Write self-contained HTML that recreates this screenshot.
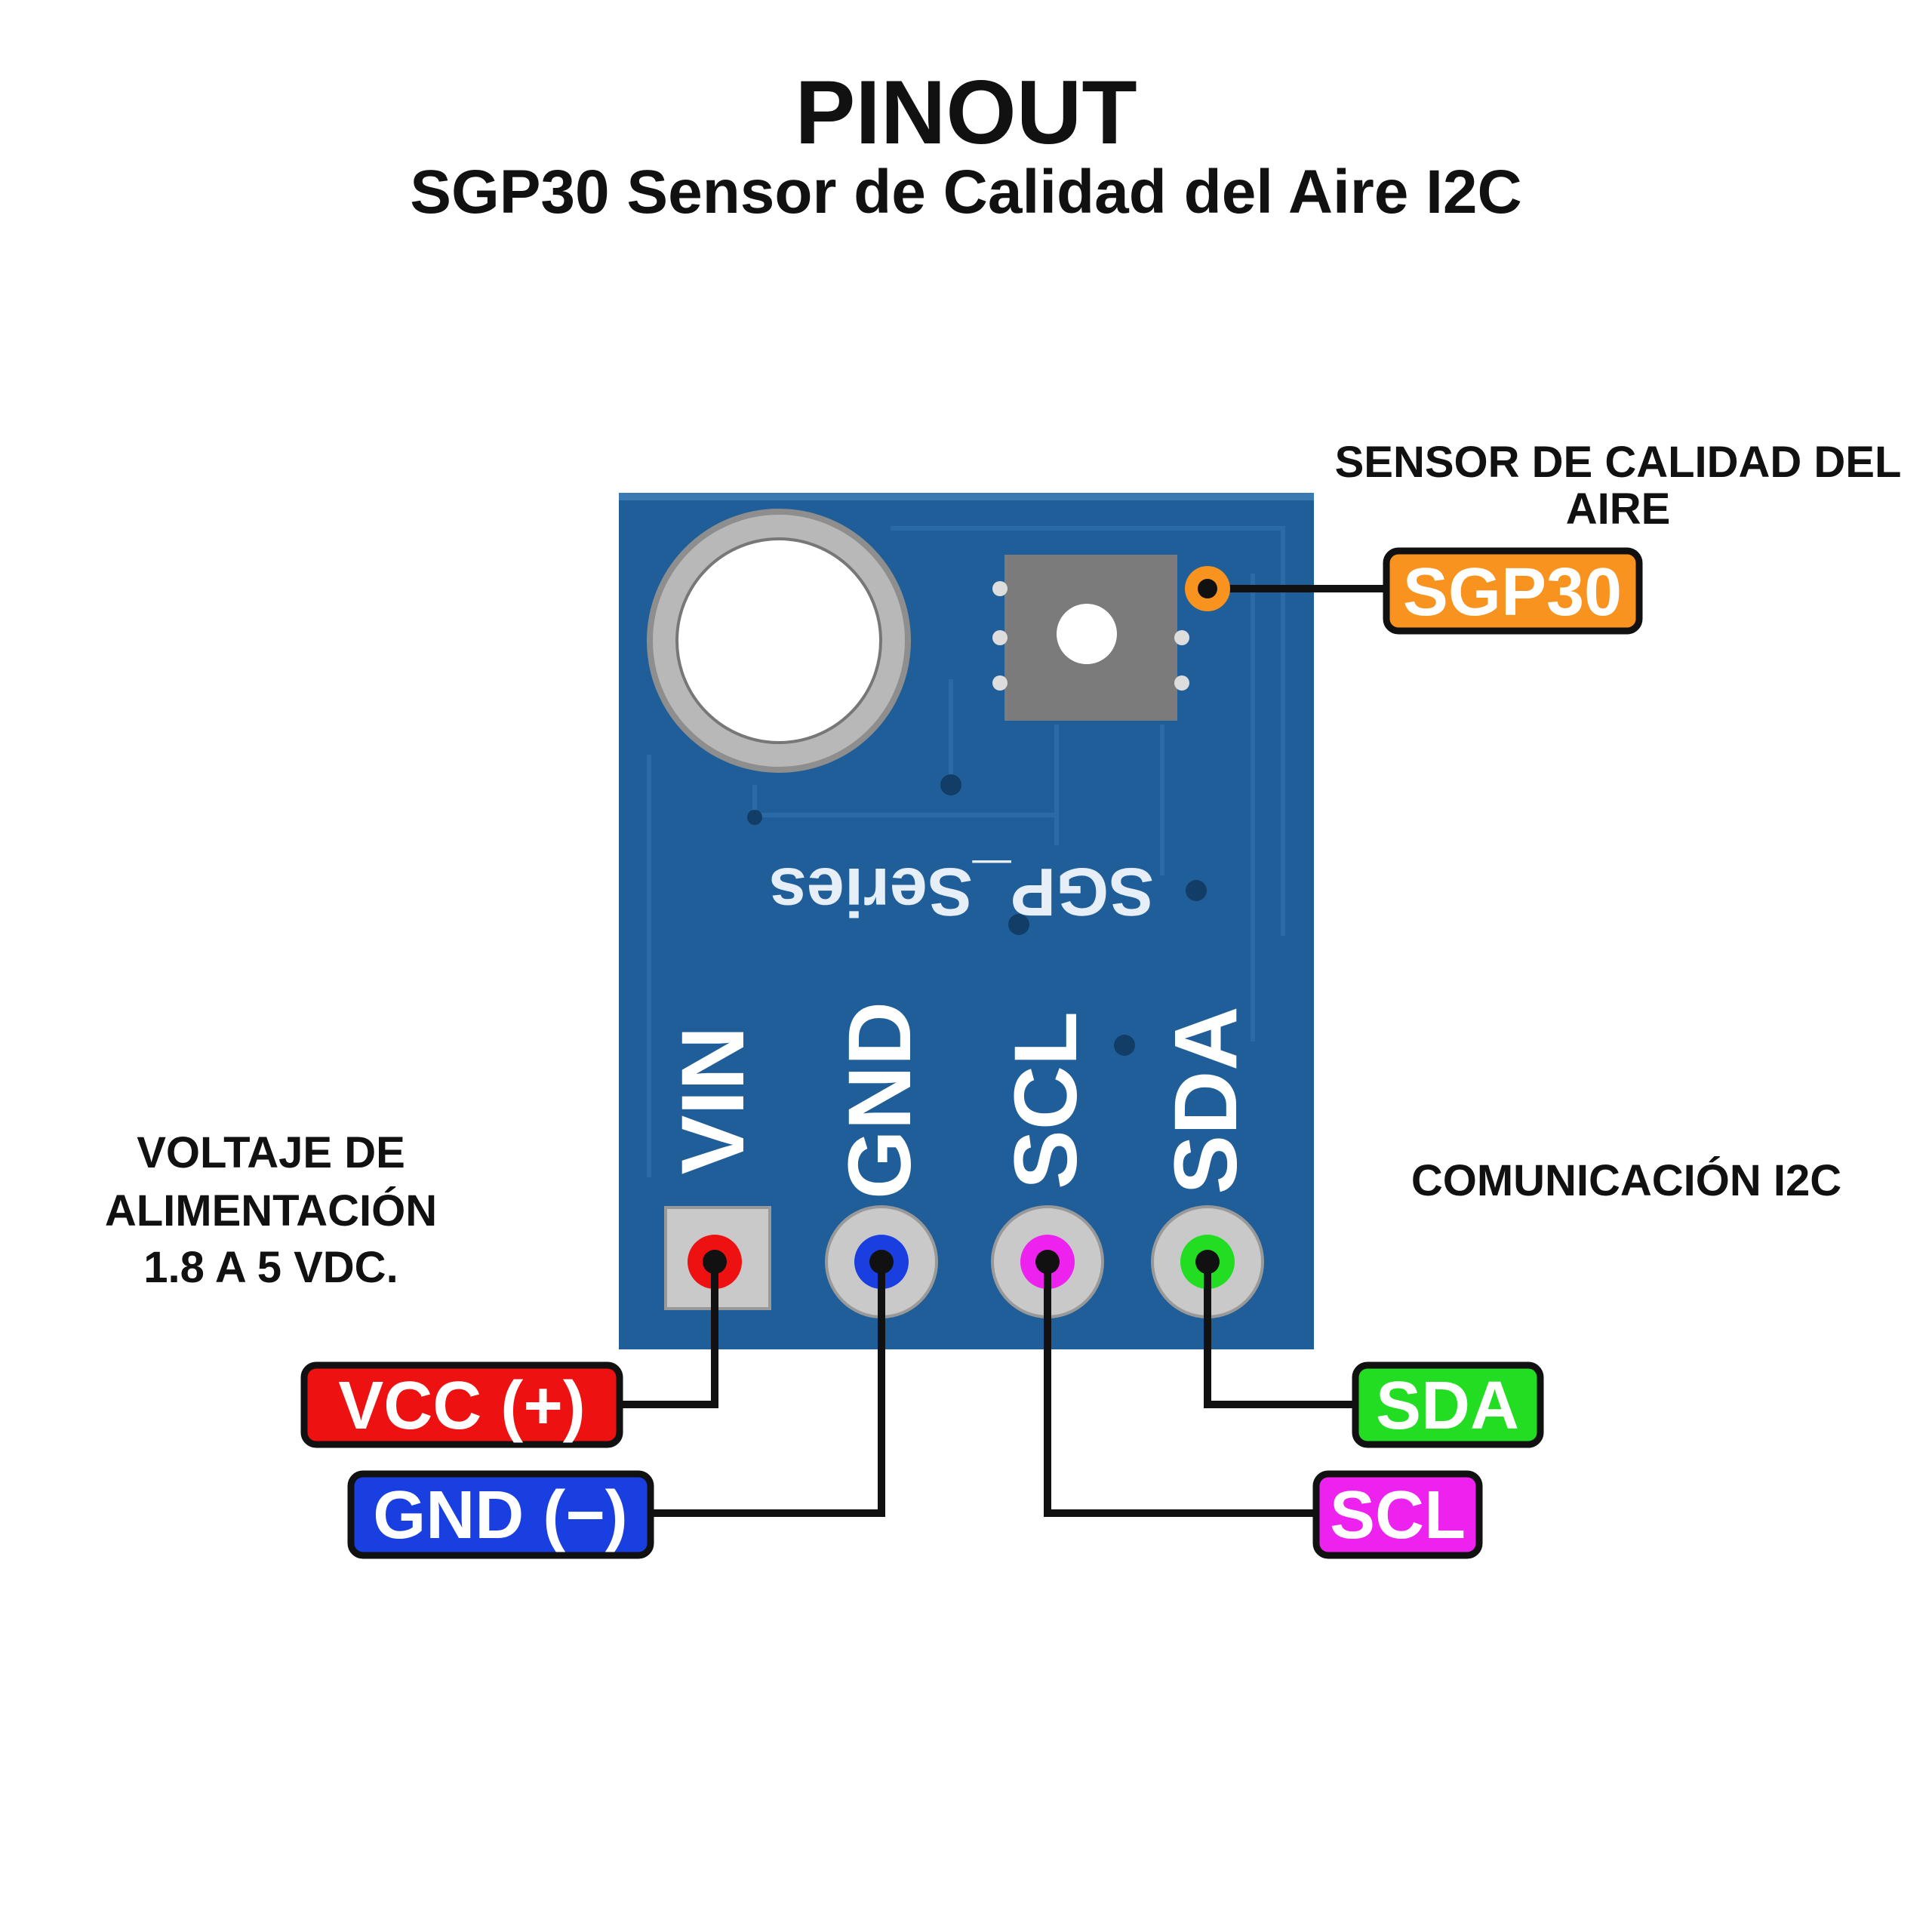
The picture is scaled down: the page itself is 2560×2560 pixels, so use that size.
<!DOCTYPE html>
<html><head><meta charset="utf-8"><style>
html,body{margin:0;padding:0;background:#fff;}
svg{display:block;}
text{font-family:"Liberation Sans",sans-serif;font-weight:bold;}
</style></head><body>
<svg width="2560" height="2560" viewBox="0 0 2560 2560" xmlns="http://www.w3.org/2000/svg">
<rect width="2560" height="2560" fill="#fff"/>
<text x="1280" y="190" font-size="120" text-anchor="middle" fill="#111">PINOUT</text>
<text x="1280" y="282" font-size="82" text-anchor="middle" fill="#111">SGP30 Sensor de Calidad del Aire I2C</text>

<!-- board -->
<rect x="820" y="653" width="921" height="1135" fill="#1f5e98"/>
<rect x="820" y="653" width="921" height="10" fill="#3b7ab0"/>
<path d="M1180 700 H1700 V1240 M860 1000 V1560 M1000 1040 V1080 H1400 M1260 900 V1040 M1400 960 V1120 M1540 960 V1160 M1660 760 V1380" stroke="#2a6aa6" stroke-width="6" fill="none"/>
<circle cx="1032" cy="849" r="171" fill="#b8b8b8" stroke="#8e8e8e" stroke-width="8"/>
<circle cx="1032" cy="849" r="135" fill="#fff" stroke="#777" stroke-width="4"/>
<rect x="1331" y="735" width="229" height="220" fill="#7b7b7b"/>
<circle cx="1440" cy="840" r="40" fill="#fff"/>
<circle cx="1325" cy="780" r="10" fill="#ddd"/><circle cx="1325" cy="845" r="10" fill="#ddd"/><circle cx="1325" cy="905" r="10" fill="#ddd"/>
<circle cx="1566" cy="845" r="10" fill="#ddd"/><circle cx="1566" cy="905" r="10" fill="#ddd"/>
<circle cx="1260" cy="1040" r="14" fill="#113d66"/><circle cx="1350" cy="1225" r="14" fill="#113d66"/><circle cx="1585" cy="1180" r="14" fill="#113d66"/><circle cx="1490" cy="1385" r="14" fill="#113d66"/><circle cx="1000" cy="1083" r="10" fill="#113d66"/>
<text x="1274" y="1151" font-size="90" fill="#e6eef7" text-anchor="middle" transform="rotate(180 1274 1151)" font-weight="normal">SGP_Series</text>
<g fill="#fff" font-size="118" font-weight="normal">
<text transform="translate(985 1458) rotate(-90)" text-anchor="middle">VIN</text>
<text transform="translate(1206 1458) rotate(-90)" text-anchor="middle">GND</text>
<text transform="translate(1426 1458) rotate(-90)" text-anchor="middle">SCL</text>
<text transform="translate(1638 1458) rotate(-90)" text-anchor="middle">SDA</text>
</g>
<rect x="882" y="1600" width="138" height="134" fill="#c9c9c9" stroke="#999" stroke-width="4"/>
<circle cx="1168" cy="1672" r="73" fill="#c9c9c9" stroke="#999" stroke-width="4"/>
<circle cx="1388" cy="1672" r="73" fill="#c9c9c9" stroke="#999" stroke-width="4"/>
<circle cx="1600" cy="1672" r="73" fill="#c9c9c9" stroke="#999" stroke-width="4"/>
<circle cx="947" cy="1672" r="36" fill="#ee1111"/>
<circle cx="1168" cy="1672" r="36" fill="#1a3fe0"/>
<circle cx="1388" cy="1672" r="36" fill="#ee22ee"/>
<circle cx="1600" cy="1672" r="36" fill="#22dd22"/>

<!-- lines -->
<g stroke="#111" stroke-width="10" fill="none">
<path d="M947 1672 V1861 H817"/>
<path d="M1168 1672 V2005 H862"/>
<path d="M1388 1672 V2005 H1744"/>
<path d="M1600 1672 V1861 H1796"/>
<path d="M1600 780 H1837"/>
</g>
<g fill="#111"><circle cx="947" cy="1672" r="16"/><circle cx="1168" cy="1672" r="16"/><circle cx="1388" cy="1672" r="16"/><circle cx="1600" cy="1672" r="16"/></g>
<circle cx="1600" cy="780" r="30" fill="#f7931e"/><circle cx="1600" cy="780" r="13" fill="#111"/>

<!-- labels -->
<g stroke="#111" stroke-width="9">
<rect x="1837" y="730" width="335" height="106" rx="16" fill="#f7931e"/>
<rect x="403" y="1809" width="418" height="105" rx="16" fill="#ee1111"/>
<rect x="465" y="1953" width="397" height="108" rx="16" fill="#1a3fe0"/>
<rect x="1744" y="1953" width="216" height="108" rx="16" fill="#ee22ee"/>
<rect x="1796" y="1809" width="245" height="105" rx="16" fill="#22dd22"/>
</g>
<g fill="#fff" font-size="90" text-anchor="middle">
<text x="2004" y="815">SGP30</text>
<text x="612" y="1893">VCC (+)</text>
<text x="663" y="2038">GND (−)</text>
<text x="1852" y="2038">SCL</text>
<text x="1918" y="1893">SDA</text>
</g>

<g fill="#111" font-size="58" text-anchor="middle">
<text x="2144" y="632">SENSOR DE CALIDAD DEL</text>
<text x="2144" y="694">AIRE</text>
<text x="359" y="1547">VOLTAJE DE</text>
<text x="359" y="1624">ALIMENTACIÓN</text>
<text x="359" y="1699">1.8 A 5 VDC.</text>
<text x="2155" y="1584">COMUNICACIÓN I2C</text>
</g>
</svg>
</body></html>
